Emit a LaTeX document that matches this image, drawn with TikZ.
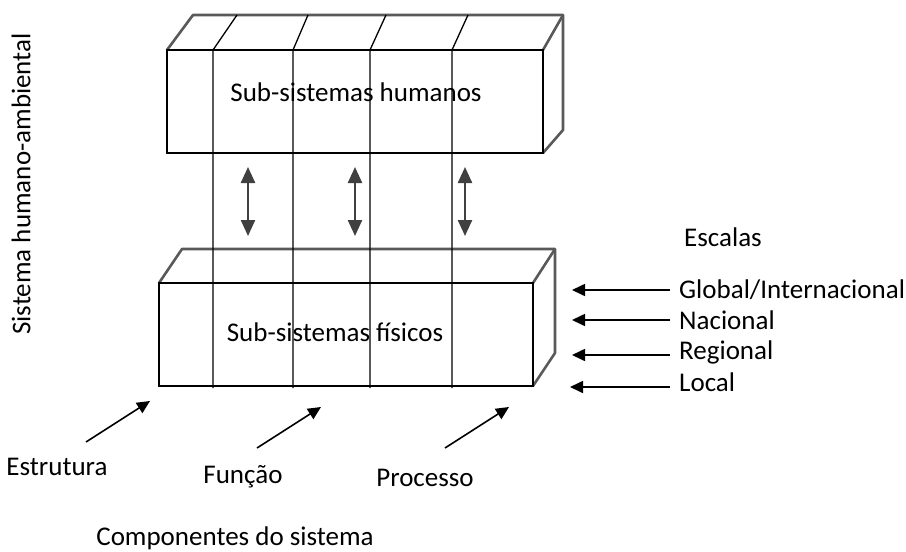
\documentclass[tikz,border=0pt]{standalone}
\usepackage{fontspec}
\setmainfont{Carlito}
\usetikzlibrary{arrows.meta}
\begin{document}
\begin{tikzpicture}[x=1pt,y=-1pt,
  lbl/.style={inner sep=0pt,font=\fontsize{27}{30}\selectfont},
  face/.style={draw=black,line width=2pt,inner sep=0pt},
  edge/.style={draw=black!65,line width=2.6pt,line join=round},
  divider/.style={draw=black,line width=1.3pt},
  dbl/.style={draw=black!75,line width=2.4pt,{Triangle[width=14pt,length=16pt]}-{Triangle[width=14pt,length=16pt]}},
  sarrow/.style={draw=black,line width=1.6pt,-{Triangle[width=12pt,length=13pt]}}]
\useasboundingbox (0,0) rectangle (906,552);
% top box
\draw[edge] (167,50) -- (193,15) -- (563,15) -- (563,130) -- (543,153);
\draw[edge] (543,50) -- (563,15);
\node[face,minimum width=376pt,minimum height=103pt] (top) at (355,101.5) {};
\node[lbl] (hum) at (356,92) {Sub-sistemas humanos};
% bottom box
\draw[edge] (159,283) -- (182,249) -- (555,249) -- (555,353) -- (533,386);
\draw[edge] (533,283) -- (555,249);
\node[face,minimum width=374pt,minimum height=103pt] (bot) at (346,334.5) {};
\node[lbl] (fis) at (335,332) {Sub-sistemas físicos};
% dividers
\foreach \x/\t in {213/237,293/308,370/386,452/468}{
  \coordinate (a\x) at (\x,50);
  \coordinate (b\x) at (\x,388);
  \coordinate (c\x) at (\t,15);
  \draw[divider] (b\x) -- (a\x) -- (c\x);
}
% double arrows
\foreach \x in {248,355,465}{
  \coordinate (u\x) at (\x,167);
  \coordinate (d\x) at (\x,236);
  \draw[dbl] (u\x) -- (d\x);
}
% side label
\node[lbl,rotate=90] (sis) at (21,184) {Sistema humano-ambiental};
% scales
\node[lbl] (esc) at (723,237) {Escalas};
\node[lbl,anchor=west] (glo) at (679,290) {Global/Internacional};
\node[lbl,anchor=west] (nac) at (679,320) {Nacional};
\node[lbl,anchor=west] (reg) at (679,352) {Regional};
\node[lbl,anchor=west] (loc) at (679,382) {Local};
\coordinate (hg) at (572,290);
\coordinate (hn) at (572,320);
\coordinate (hr) at (572,355);
\coordinate (hl) at (570,387);
\coordinate (tg) at (670,290);
\coordinate (tn) at (670,320);
\coordinate (tr) at (670,355);
\coordinate (tl) at (670,387);
\draw[sarrow] (tg) -- (hg);
\draw[sarrow] (tn) -- (hn);
\draw[sarrow] (tr) -- (hr);
\draw[sarrow] (tl) -- (hl);
% components
\node[lbl] (est) at (57,467) {Estrutura};
\node[lbl] (fun) at (243,477) {Função};
\node[lbl] (pro) at (425,478) {Processo};
\node[lbl] (comp) at (235,538) {Componentes do sistema};
\coordinate (e1) at (86,442); \coordinate (e2) at (150,401);
\coordinate (f1) at (257,448); \coordinate (f2) at (321,407);
\coordinate (p1) at (445,448); \coordinate (p2) at (509,407);
\draw[sarrow] (e1) -- (e2);
\draw[sarrow] (f1) -- (f2);
\draw[sarrow] (p1) -- (p2);
\end{tikzpicture}
\end{document}
